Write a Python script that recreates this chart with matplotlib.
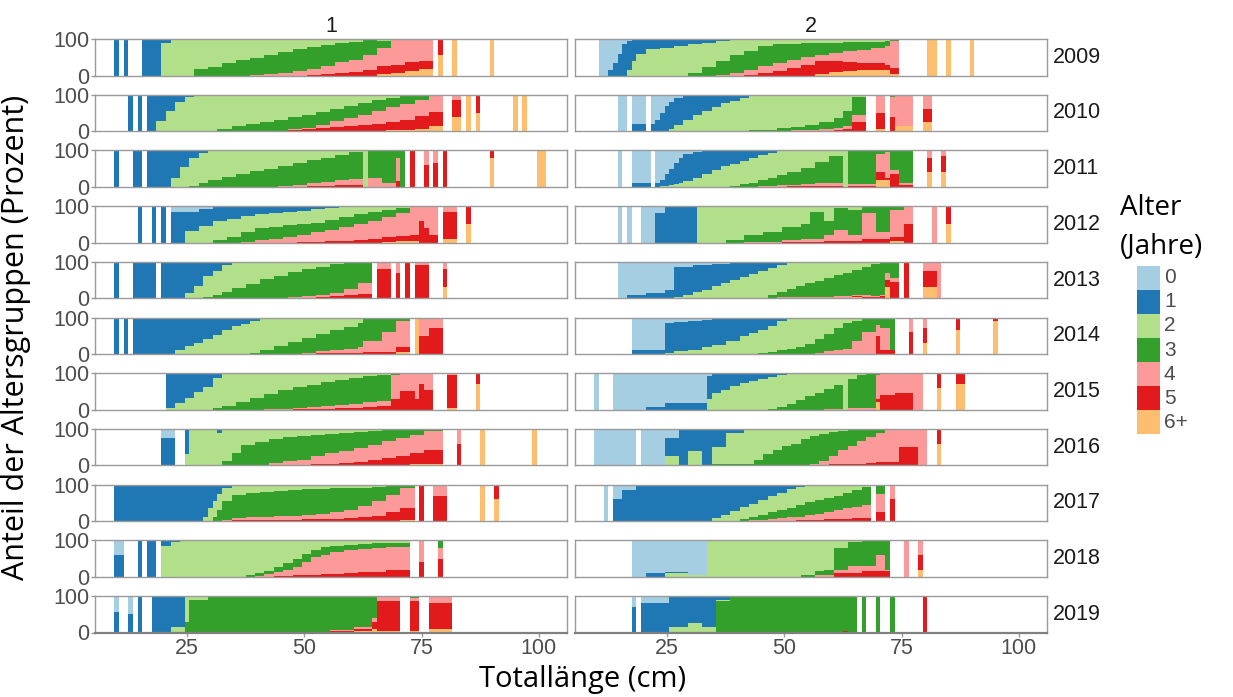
import numpy as np
import matplotlib.pyplot as plt
from matplotlib.patches import Rectangle

ages = ['0', '1', '2', '3', '4', '5', '6+']
colors = ['#a6cee3', '#1f78b4', '#b2df8a', '#33a02c', '#fb9a99', '#e31a1c', '#fdbf6f']
years = list(range(2009, 2020))
areas = ['1', '2']

# rows: first cm, last cm, then % of age 0, 1, 2, 3, 4, 5, 6+
g1_2009 = [
    [10, 10, 0, 100, 0, 0, 0, 0, 0], [12, 12, 0, 100, 0, 0, 0, 0, 0],
    [16, 19, 0, 100, 0, 0, 0, 0, 0], [20, 21, 0, 12, 88, 0, 0, 0, 0],
    [22, 26, 0, 0, 100, 0, 0, 0, 0], [27, 29, 0, 0, 83, 17, 0, 0, 0],
    [30, 32, 0, 0, 76, 24, 0, 0, 0], [33, 35, 0, 0, 67, 33, 0, 0, 0],
    [36, 38, 0, 0, 58, 42, 0, 0, 0], [39, 41, 0, 0, 51, 48, 1, 0, 0],
    [42, 44, 0, 0, 43, 54, 3, 0, 0], [45, 47, 0, 0, 35, 58, 7, 0, 0],
    [48, 50, 0, 0, 28, 61, 11, 0, 0], [51, 53, 0, 0, 22, 60, 17, 1, 0],
    [54, 56, 0, 0, 16, 57, 24, 3, 0], [57, 59, 0, 0, 11, 52, 31, 6, 0],
    [60, 62, 0, 0, 7, 50, 33, 10, 0], [63, 65, 0, 0, 4, 41, 40, 15, 0],
    [66, 68, 0, 0, 5, 20, 50, 22, 3], [69, 71, 0, 0, 0, 3, 67, 24, 6],
    [72, 74, 0, 0, 0, 0, 63, 26, 11], [75, 77, 0, 0, 0, 0, 60, 23, 17],
    [79, 79, 0, 0, 0, 0, 0, 45, 55], [82, 82, 0, 0, 0, 0, 0, 0, 100],
    [90, 90, 0, 0, 0, 0, 0, 0, 100],
]
g1_2010 = [
    [13, 13, 0, 100, 0, 0, 0, 0, 0], [15, 15, 0, 100, 0, 0, 0, 0, 0],
    [17, 18, 0, 100, 0, 0, 0, 0, 0], [19, 20, 0, 72, 28, 0, 0, 0, 0],
    [21, 22, 0, 45, 55, 0, 0, 0, 0], [23, 24, 0, 20, 80, 0, 0, 0, 0],
    [25, 26, 0, 5, 95, 0, 0, 0, 0], [27, 31, 0, 0, 100, 0, 0, 0, 0],
    [32, 34, 0, 0, 94, 6, 0, 0, 0], [35, 37, 0, 0, 87, 13, 0, 0, 0],
    [38, 40, 0, 0, 81, 19, 0, 0, 0], [41, 43, 0, 0, 74, 26, 0, 0, 0],
    [44, 46, 0, 0, 68, 31, 1, 0, 0], [47, 49, 0, 0, 62, 33, 2, 3, 0],
    [50, 52, 0, 0, 55, 35, 4, 6, 0], [53, 55, 0, 0, 48, 34, 10, 8, 0],
    [56, 58, 0, 0, 39, 34, 16, 11, 0], [59, 61, 0, 0, 30, 35, 22, 13, 0],
    [62, 64, 0, 0, 22, 34, 28, 16, 0], [65, 67, 0, 0, 15, 31, 35, 19, 0],
    [68, 70, 0, 0, 8, 27, 40, 23, 2], [71, 73, 0, 0, 3, 22, 43, 28, 4],
    [74, 76, 0, 0, 0, 15, 43, 35, 7], [77, 79, 0, 0, 0, 3, 45, 37, 15],
    [82, 83, 0, 0, 0, 0, 15, 45, 40], [85, 85, 0, 0, 0, 0, 0, 0, 100],
    [87, 87, 0, 0, 0, 0, 0, 50, 50], [95, 95, 0, 0, 0, 0, 0, 0, 100],
    [97, 97, 0, 0, 0, 3, 0, 0, 97],
]
g1_2011 = [
    [10, 10, 0, 100, 0, 0, 0, 0, 0], [14, 15, 0, 100, 0, 0, 0, 0, 0],
    [17, 21, 0, 100, 0, 0, 0, 0, 0], [22, 23, 0, 75, 25, 0, 0, 0, 0],
    [24, 25, 0, 45, 55, 0, 0, 0, 0], [26, 27, 0, 20, 77, 3, 0, 0, 0],
    [28, 29, 0, 6, 82, 12, 0, 0, 0], [30, 32, 0, 0, 80, 20, 0, 0, 0],
    [33, 35, 0, 0, 72, 28, 0, 0, 0], [36, 38, 0, 0, 65, 35, 0, 0, 0],
    [39, 41, 0, 0, 57, 43, 0, 0, 0], [42, 44, 0, 0, 50, 49, 1, 0, 0],
    [45, 47, 0, 0, 42, 55, 3, 0, 0], [48, 50, 0, 0, 35, 60, 4, 1, 0],
    [51, 53, 0, 0, 27, 63, 8, 2, 0], [54, 56, 0, 0, 20, 66, 11, 3, 0],
    [57, 59, 0, 0, 13, 69, 14, 4, 0], [60, 62, 0, 0, 5, 72, 18, 5, 0],
    [63, 63, 0, 0, 100, 0, 0, 0, 0], [64, 66, 0, 0, 0, 75, 25, 0, 0],
    [67, 69, 0, 0, 0, 90, 10, 0, 0], [70, 70, 0, 0, 0, 20, 65, 15, 0],
    [71, 71, 0, 0, 0, 100, 0, 0, 0], [73, 73, 0, 0, 0, 0, 0, 100, 0],
    [76, 76, 0, 0, 0, 0, 40, 60, 0], [78, 78, 0, 0, 0, 0, 35, 65, 0],
    [80, 80, 0, 0, 0, 0, 0, 100, 0], [90, 90, 0, 0, 0, 0, 0, 20, 80],
    [100, 101, 0, 0, 0, 0, 0, 0, 100],
]
g1_2012 = [
    [15, 15, 0, 100, 0, 0, 0, 0, 0], [18, 18, 0, 100, 0, 0, 0, 0, 0],
    [20, 20, 0, 100, 0, 0, 0, 0, 0], [22, 24, 15, 85, 0, 0, 0, 0, 0],
    [25, 27, 15, 53, 32, 0, 0, 0, 0], [28, 30, 8, 47, 45, 0, 0, 0, 0],
    [31, 33, 0, 42, 52, 6, 0, 0, 0], [34, 36, 0, 34, 50, 16, 0, 0, 0],
    [37, 39, 0, 28, 44, 26, 2, 0, 0], [40, 42, 0, 23, 37, 33, 7, 0, 0],
    [43, 45, 0, 19, 37, 33, 11, 0, 0], [46, 48, 0, 16, 37, 32, 15, 0, 0],
    [49, 51, 0, 13, 36, 29, 21, 1, 0], [52, 54, 0, 9, 36, 27, 25, 3, 0],
    [55, 57, 0, 5, 33, 27, 31, 4, 0], [58, 60, 0, 2, 28, 26, 39, 5, 0],
    [61, 63, 0, 0, 23, 25, 45, 7, 0], [64, 66, 0, 0, 17, 23, 51, 9, 0],
    [67, 69, 0, 0, 12, 18, 56, 12, 2], [70, 72, 0, 0, 6, 14, 62, 14, 4],
    [73, 74, 0, 0, 0, 3, 77, 15, 5], [75, 75, 0, 0, 0, 0, 40, 60, 0],
    [76, 76, 0, 0, 0, 0, 60, 40, 0], [77, 78, 0, 0, 0, 0, 80, 20, 0],
    [80, 82, 0, 0, 0, 0, 15, 75, 10], [85, 85, 0, 0, 0, 0, 0, 50, 50],
]
g1_2013 = [
    [10, 10, 0, 100, 0, 0, 0, 0, 0], [14, 18, 0, 100, 0, 0, 0, 0, 0],
    [20, 24, 0, 100, 0, 0, 0, 0, 0], [25, 26, 0, 85, 15, 0, 0, 0, 0],
    [27, 28, 0, 65, 35, 0, 0, 0, 0], [29, 30, 0, 40, 56, 4, 0, 0, 0],
    [31, 32, 0, 25, 65, 10, 0, 0, 0], [33, 34, 0, 10, 73, 17, 0, 0, 0],
    [35, 37, 0, 2, 70, 28, 0, 0, 0], [38, 40, 0, 0, 60, 40, 0, 0, 0],
    [41, 43, 0, 0, 48, 52, 0, 0, 0], [44, 46, 0, 0, 38, 60, 2, 0, 0],
    [47, 49, 0, 0, 28, 68, 4, 0, 0], [50, 52, 0, 0, 20, 73, 5, 2, 0],
    [53, 55, 0, 0, 13, 77, 7, 3, 0], [56, 58, 0, 0, 7, 78, 10, 5, 0],
    [59, 61, 0, 0, 3, 72, 17, 8, 0], [62, 64, 0, 0, 0, 58, 30, 12, 0],
    [66, 68, 0, 0, 0, 0, 20, 80, 0], [70, 70, 0, 0, 0, 0, 30, 70, 0],
    [72, 72, 0, 0, 0, 0, 0, 100, 0], [74, 76, 0, 0, 0, 0, 10, 90, 0],
    [80, 80, 0, 0, 0, 0, 20, 50, 30],
]
g1_2014 = [
    [10, 10, 0, 100, 0, 0, 0, 0, 0], [12, 12, 0, 100, 0, 0, 0, 0, 0],
    [14, 22, 0, 100, 0, 0, 0, 0, 0], [23, 24, 0, 88, 12, 0, 0, 0, 0],
    [25, 26, 0, 78, 22, 0, 0, 0, 0], [27, 28, 0, 70, 30, 0, 0, 0, 0],
    [29, 30, 0, 60, 40, 0, 0, 0, 0], [31, 32, 0, 48, 52, 0, 0, 0, 0],
    [33, 34, 0, 35, 65, 0, 0, 0, 0], [35, 36, 0, 24, 76, 0, 0, 0, 0],
    [37, 38, 0, 17, 83, 0, 0, 0, 0], [39, 40, 0, 9, 87, 4, 0, 0, 0],
    [41, 43, 0, 2, 87, 11, 0, 0, 0], [44, 46, 0, 0, 78, 22, 0, 0, 0],
    [47, 49, 0, 0, 67, 32, 1, 0, 0], [50, 52, 0, 0, 56, 40, 3, 1, 0],
    [53, 55, 0, 0, 45, 47, 5, 3, 0], [56, 58, 0, 0, 35, 53, 9, 3, 0],
    [59, 61, 0, 0, 25, 60, 12, 3, 0], [62, 62, 0, 0, 15, 65, 17, 3, 0],
    [63, 66, 0, 0, 5, 60, 30, 5, 0], [67, 69, 0, 0, 0, 40, 55, 5, 0],
    [70, 72, 0, 0, 0, 10, 70, 15, 5], [74, 74, 0, 0, 0, 0, 0, 0, 100],
    [75, 76, 0, 0, 0, 0, 50, 50, 0], [77, 79, 0, 0, 0, 0, 30, 70, 0],
]
g1_2015 = [
    [21, 22, 0, 95, 5, 0, 0, 0, 0], [23, 24, 0, 82, 18, 0, 0, 0, 0],
    [25, 26, 0, 68, 32, 0, 0, 0, 0], [27, 28, 0, 52, 48, 0, 0, 0, 0],
    [29, 30, 0, 38, 62, 0, 0, 0, 0], [31, 32, 0, 14, 81, 5, 0, 0, 0],
    [33, 35, 0, 2, 88, 10, 0, 0, 0], [36, 38, 0, 0, 79, 21, 0, 0, 0],
    [39, 41, 0, 0, 68, 32, 0, 0, 0], [42, 44, 0, 0, 58, 41, 1, 0, 0],
    [45, 47, 0, 0, 47, 50, 3, 0, 0], [48, 50, 0, 0, 39, 55, 5, 1, 0],
    [51, 53, 0, 0, 31, 61, 6, 2, 0], [54, 56, 0, 0, 25, 65, 7, 3, 0],
    [57, 59, 0, 0, 19, 68, 9, 4, 0], [60, 62, 0, 0, 13, 71, 11, 5, 0],
    [63, 65, 0, 0, 9, 70, 14, 7, 0], [66, 68, 0, 0, 5, 70, 16, 9, 0],
    [69, 70, 0, 0, 0, 5, 65, 30, 0], [71, 73, 0, 0, 0, 0, 50, 50, 0],
    [74, 74, 0, 0, 0, 0, 70, 30, 0], [75, 75, 0, 0, 0, 0, 30, 70, 0],
    [76, 77, 0, 0, 0, 0, 45, 55, 0], [81, 82, 0, 0, 0, 0, 5, 90, 5],
    [87, 87, 0, 0, 0, 0, 0, 30, 70],
]
g1_2016 = [
    [20, 22, 25, 75, 0, 0, 0, 0, 0], [25, 25, 0, 70, 30, 0, 0, 0, 0],
    [26, 31, 0, 0, 100, 0, 0, 0, 0], [32, 32, 0, 10, 90, 0, 0, 0, 0],
    [33, 34, 0, 0, 88, 12, 0, 0, 0], [35, 36, 0, 0, 65, 35, 0, 0, 0],
    [37, 39, 0, 0, 45, 55, 0, 0, 0], [40, 42, 0, 0, 35, 63, 2, 0, 0],
    [43, 45, 0, 0, 29, 65, 6, 0, 0], [46, 48, 0, 0, 23, 66, 11, 0, 0],
    [49, 51, 0, 0, 19, 66, 13, 2, 0], [52, 54, 0, 0, 16, 59, 21, 4, 0],
    [55, 57, 0, 0, 13, 53, 29, 5, 0], [58, 60, 0, 0, 10, 50, 33, 7, 0],
    [61, 63, 0, 0, 8, 44, 38, 10, 0], [64, 66, 0, 0, 6, 37, 43, 14, 0],
    [67, 69, 0, 0, 4, 30, 46, 20, 0], [70, 72, 0, 0, 3, 22, 48, 26, 1],
    [73, 75, 0, 0, 2, 14, 50, 31, 3], [76, 79, 0, 0, 0, 7, 51, 37, 5],
    [83, 83, 0, 0, 0, 0, 40, 60, 0], [88, 88, 0, 0, 0, 0, 0, 0, 100],
    [99, 99, 0, 0, 0, 0, 0, 0, 100],
]
g1_2017 = [
    [10, 28, 0, 100, 0, 0, 0, 0, 0], [29, 29, 0, 90, 10, 0, 0, 0, 0],
    [30, 30, 0, 65, 35, 0, 0, 0, 0], [31, 31, 0, 45, 45, 10, 0, 0, 0],
    [32, 32, 0, 25, 45, 30, 0, 0, 0], [33, 34, 0, 8, 37, 52, 3, 0, 0],
    [35, 37, 0, 1, 28, 63, 5, 3, 0], [38, 40, 0, 0, 24, 66, 6, 4, 0],
    [41, 43, 0, 0, 20, 68, 8, 4, 0], [44, 46, 0, 0, 17, 70, 9, 4, 0],
    [47, 49, 0, 0, 14, 72, 10, 4, 0], [50, 52, 0, 0, 12, 72, 11, 5, 0],
    [53, 55, 0, 0, 11, 70, 13, 6, 0], [56, 58, 0, 0, 10, 66, 17, 7, 0],
    [59, 61, 0, 0, 10, 60, 22, 8, 0], [62, 64, 0, 0, 8, 50, 31, 11, 0],
    [65, 67, 0, 0, 6, 40, 39, 15, 0], [68, 70, 0, 0, 4, 25, 45, 25, 1],
    [71, 73, 0, 0, 2, 8, 55, 33, 2], [75, 75, 0, 0, 0, 0, 0, 100, 0],
    [78, 80, 0, 0, 0, 0, 30, 70, 0], [88, 88, 0, 0, 0, 0, 0, 0, 100],
    [91, 91, 0, 0, 0, 0, 0, 40, 60],
]
g1_2018 = [
    [10, 11, 40, 60, 0, 0, 0, 0, 0], [15, 15, 0, 100, 0, 0, 0, 0, 0],
    [17, 18, 0, 100, 0, 0, 0, 0, 0], [20, 21, 0, 15, 85, 0, 0, 0, 0],
    [22, 23, 0, 5, 95, 0, 0, 0, 0], [24, 37, 0, 0, 100, 0, 0, 0, 0],
    [38, 39, 0, 0, 95, 5, 0, 0, 0], [40, 41, 0, 0, 90, 7, 3, 0, 0],
    [42, 43, 0, 0, 83, 10, 7, 0, 0], [44, 45, 0, 0, 74, 14, 10, 2, 0],
    [46, 47, 0, 0, 62, 20, 15, 3, 0], [48, 49, 0, 0, 50, 22, 24, 4, 0],
    [50, 51, 0, 0, 38, 22, 35, 5, 0], [52, 53, 0, 0, 26, 20, 48, 6, 0],
    [54, 55, 0, 0, 19, 20, 53, 8, 0], [56, 58, 0, 0, 15, 18, 58, 9, 0],
    [59, 61, 0, 0, 12, 15, 63, 10, 0], [62, 64, 0, 0, 10, 14, 64, 12, 0],
    [65, 67, 0, 0, 8, 13, 65, 14, 0], [68, 72, 0, 0, 7, 11, 64, 18, 0],
    [75, 75, 0, 0, 0, 0, 60, 40, 0], [79, 79, 0, 0, 0, 20, 30, 50, 0],
]
g1_2019 = [
    [10, 10, 45, 55, 0, 0, 0, 0, 0], [13, 13, 50, 50, 0, 0, 0, 0, 0],
    [15, 15, 0, 100, 0, 0, 0, 0, 0], [18, 21, 0, 100, 0, 0, 0, 0, 0],
    [22, 24, 0, 85, 15, 0, 0, 0, 0], [25, 25, 0, 0, 70, 30, 0, 0, 0],
    [26, 29, 0, 0, 12, 88, 0, 0, 0], [30, 55, 0, 0, 2, 97, 1, 0, 0],
    [56, 60, 0, 0, 1, 92, 4, 2, 1], [61, 64, 0, 0, 0, 85, 5, 6, 4],
    [65, 65, 0, 0, 0, 60, 10, 20, 10], [66, 70, 0, 0, 0, 0, 15, 80, 5],
    [73, 74, 0, 0, 0, 5, 10, 80, 5], [77, 81, 0, 0, 0, 0, 20, 70, 10],
]

g2_2009 = [
    [11, 12, 100, 0, 0, 0, 0, 0, 0], [13, 13, 85, 15, 0, 0, 0, 0, 0],
    [14, 14, 65, 35, 0, 0, 0, 0, 0], [15, 15, 40, 60, 0, 0, 0, 0, 0],
    [16, 16, 15, 85, 0, 0, 0, 0, 0], [17, 17, 5, 80, 15, 0, 0, 0, 0],
    [18, 18, 2, 58, 40, 0, 0, 0, 0], [19, 20, 0, 40, 60, 0, 0, 0, 0],
    [21, 23, 0, 27, 73, 0, 0, 0, 0], [24, 26, 0, 24, 76, 0, 0, 0, 0],
    [27, 29, 0, 20, 80, 0, 0, 0, 0], [30, 32, 0, 15, 77, 8, 0, 0, 0],
    [33, 35, 0, 10, 68, 22, 0, 0, 0], [36, 38, 0, 5, 55, 38, 2, 0, 0],
    [39, 41, 0, 1, 42, 51, 6, 0, 0], [42, 44, 0, 0, 32, 52, 14, 2, 0],
    [45, 47, 0, 0, 20, 55, 18, 7, 0], [48, 50, 0, 0, 15, 50, 22, 13, 0],
    [51, 53, 0, 0, 13, 45, 22, 20, 0], [54, 56, 0, 0, 12, 38, 20, 30, 0],
    [57, 59, 0, 0, 11, 34, 15, 37, 3], [60, 62, 0, 0, 10, 28, 22, 30, 10],
    [63, 65, 0, 0, 8, 25, 29, 25, 13], [66, 68, 0, 0, 8, 21, 36, 20, 15],
    [69, 71, 0, 0, 7, 18, 42, 18, 15], [72, 72, 0, 0, 5, 15, 50, 15, 15],
    [73, 74, 0, 0, 0, 5, 75, 15, 5], [81, 82, 0, 0, 0, 0, 0, 0, 100],
    [85, 85, 0, 0, 0, 0, 0, 0, 100], [90, 90, 0, 0, 0, 0, 0, 0, 100],
]
g2_2010 = [
    [15, 16, 100, 0, 0, 0, 0, 0, 0], [18, 20, 80, 20, 0, 0, 0, 0, 0],
    [22, 22, 80, 20, 0, 0, 0, 0, 0], [23, 23, 70, 30, 0, 0, 0, 0, 0],
    [24, 24, 50, 50, 0, 0, 0, 0, 0], [25, 25, 30, 70, 0, 0, 0, 0, 0],
    [26, 26, 20, 75, 5, 0, 0, 0, 0], [27, 28, 8, 75, 17, 0, 0, 0, 0],
    [29, 30, 0, 69, 31, 0, 0, 0, 0], [31, 32, 0, 55, 45, 0, 0, 0, 0],
    [33, 34, 0, 44, 56, 0, 0, 0, 0], [35, 36, 0, 33, 67, 0, 0, 0, 0],
    [37, 38, 0, 24, 76, 0, 0, 0, 0], [39, 40, 0, 16, 84, 0, 0, 0, 0],
    [41, 42, 0, 9, 90, 1, 0, 0, 0], [43, 45, 0, 4, 94, 2, 0, 0, 0],
    [46, 48, 0, 1, 95, 4, 0, 0, 0], [49, 51, 0, 0, 92, 7, 1, 0, 0],
    [52, 54, 0, 0, 88, 10, 2, 0, 0], [55, 57, 0, 0, 83, 14, 3, 0, 0],
    [58, 60, 0, 0, 75, 20, 5, 0, 0], [61, 62, 0, 0, 65, 25, 8, 2, 0],
    [63, 64, 0, 0, 45, 40, 10, 5, 0], [65, 67, 0, 0, 5, 50, 20, 25, 0],
    [70, 71, 0, 0, 0, 0, 50, 45, 5], [73, 73, 0, 0, 0, 5, 55, 40, 0],
    [74, 77, 0, 0, 0, 0, 85, 0, 15], [80, 81, 0, 0, 0, 0, 40, 35, 25],
]
g2_2011 = [
    [15, 15, 100, 0, 0, 0, 0, 0, 0], [18, 21, 88, 12, 0, 0, 0, 0, 0],
    [23, 23, 90, 10, 0, 0, 0, 0, 0], [24, 24, 80, 18, 2, 0, 0, 0, 0],
    [25, 25, 65, 32, 3, 0, 0, 0, 0], [26, 26, 50, 45, 5, 0, 0, 0, 0],
    [27, 27, 35, 57, 8, 0, 0, 0, 0], [28, 28, 22, 66, 12, 0, 0, 0, 0],
    [29, 30, 10, 73, 17, 0, 0, 0, 0], [31, 32, 5, 71, 24, 0, 0, 0, 0],
    [33, 34, 0, 65, 35, 0, 0, 0, 0], [35, 36, 0, 54, 46, 0, 0, 0, 0],
    [37, 38, 0, 43, 56, 1, 0, 0, 0], [39, 40, 0, 36, 61, 3, 0, 0, 0],
    [41, 42, 0, 28, 65, 7, 0, 0, 0], [43, 44, 0, 20, 68, 11, 1, 0, 0],
    [45, 46, 0, 12, 69, 17, 2, 0, 0], [47, 48, 0, 6, 69, 22, 3, 0, 0],
    [49, 50, 0, 2, 66, 27, 4, 1, 0], [51, 53, 0, 0, 60, 34, 4, 2, 0],
    [54, 56, 0, 0, 47, 45, 6, 2, 0], [57, 59, 0, 0, 33, 57, 7, 3, 0],
    [60, 62, 0, 0, 15, 75, 7, 3, 0], [63, 63, 0, 0, 100, 0, 0, 0, 0],
    [64, 69, 0, 0, 2, 90, 6, 2, 0], [70, 71, 0, 0, 0, 10, 50, 20, 20],
    [72, 72, 0, 0, 0, 5, 70, 5, 20], [73, 74, 0, 0, 0, 55, 10, 35, 0],
    [75, 77, 0, 0, 0, 90, 5, 5, 0], [81, 81, 0, 0, 0, 0, 20, 40, 40],
    [84, 84, 0, 0, 0, 0, 15, 45, 40],
]
g2_2012 = [
    [15, 15, 100, 0, 0, 0, 0, 0, 0], [17, 17, 100, 0, 0, 0, 0, 0, 0],
    [20, 22, 100, 0, 0, 0, 0, 0, 0], [23, 24, 20, 80, 0, 0, 0, 0, 0],
    [25, 31, 0, 100, 0, 0, 0, 0, 0], [32, 37, 0, 0, 100, 0, 0, 0, 0],
    [38, 41, 0, 0, 92, 8, 0, 0, 0], [42, 45, 0, 0, 80, 19, 1, 0, 0],
    [46, 49, 0, 0, 70, 27, 3, 0, 0], [50, 53, 0, 0, 58, 35, 5, 2, 0],
    [54, 55, 0, 0, 50, 40, 7, 3, 0], [56, 58, 0, 0, 15, 75, 7, 3, 0],
    [59, 60, 0, 0, 40, 40, 15, 5, 0], [61, 63, 0, 0, 5, 60, 30, 5, 0],
    [64, 66, 0, 0, 10, 70, 15, 5, 0], [67, 69, 0, 0, 0, 20, 70, 10, 0],
    [70, 72, 0, 0, 0, 70, 20, 10, 0], [73, 75, 0, 0, 0, 10, 75, 10, 5],
    [76, 77, 0, 0, 0, 0, 50, 50, 0], [82, 82, 0, 0, 0, 0, 100, 0, 0],
    [85, 85, 0, 0, 0, 0, 0, 50, 50],
]
g2_2013 = [
    [15, 16, 100, 0, 0, 0, 0, 0, 0], [17, 20, 90, 10, 0, 0, 0, 0, 0],
    [21, 24, 85, 15, 0, 0, 0, 0, 0], [25, 26, 78, 22, 0, 0, 0, 0, 0],
    [27, 28, 15, 82, 3, 0, 0, 0, 0], [29, 30, 13, 79, 8, 0, 0, 0, 0],
    [31, 32, 10, 74, 16, 0, 0, 0, 0], [33, 34, 9, 67, 24, 0, 0, 0, 0],
    [35, 36, 7, 60, 33, 0, 0, 0, 0], [37, 38, 5, 54, 41, 0, 0, 0, 0],
    [39, 40, 4, 46, 50, 0, 0, 0, 0], [41, 42, 3, 39, 58, 0, 0, 0, 0],
    [43, 44, 2, 31, 66, 1, 0, 0, 0], [45, 46, 1, 24, 73, 2, 0, 0, 0],
    [47, 48, 0, 17, 73, 8, 2, 0, 0], [49, 50, 0, 8, 74, 15, 3, 0, 0],
    [51, 52, 0, 3, 71, 23, 3, 0, 0], [53, 54, 0, 0, 67, 30, 3, 0, 0],
    [55, 56, 0, 0, 59, 37, 4, 0, 0], [57, 58, 0, 0, 52, 44, 4, 0, 0],
    [59, 60, 0, 0, 44, 52, 4, 0, 0], [61, 62, 0, 0, 37, 58, 4, 1, 0],
    [63, 64, 0, 0, 30, 64, 4, 2, 0], [65, 66, 0, 0, 22, 68, 5, 2, 3],
    [67, 68, 0, 0, 14, 78, 4, 2, 2], [69, 70, 0, 0, 6, 88, 3, 2, 1],
    [71, 71, 0, 0, 0, 92, 3, 3, 2], [72, 72, 0, 0, 0, 30, 20, 20, 30],
    [73, 74, 0, 0, 0, 45, 10, 45, 0], [76, 76, 0, 0, 0, 0, 0, 100, 0],
    [80, 82, 0, 0, 0, 0, 25, 45, 30], [83, 83, 0, 0, 0, 0, 100, 0, 0],
]
g2_2014 = [
    [18, 24, 88, 12, 0, 0, 0, 0, 0], [25, 26, 15, 82, 3, 0, 0, 0, 0],
    [27, 29, 12, 81, 7, 0, 0, 0, 0], [30, 32, 9, 80, 11, 0, 0, 0, 0],
    [33, 34, 6, 76, 18, 0, 0, 0, 0], [35, 37, 4, 70, 26, 0, 0, 0, 0],
    [38, 40, 3, 62, 35, 0, 0, 0, 0], [41, 42, 2, 50, 47, 1, 0, 0, 0],
    [43, 44, 1, 42, 56, 1, 0, 0, 0], [45, 46, 0, 33, 64, 3, 0, 0, 0],
    [47, 48, 0, 22, 73, 5, 0, 0, 0], [49, 50, 0, 10, 80, 10, 0, 0, 0],
    [51, 52, 0, 3, 83, 14, 0, 0, 0], [53, 54, 0, 0, 80, 20, 0, 0, 0],
    [55, 56, 0, 0, 72, 28, 0, 0, 0], [57, 58, 0, 0, 60, 37, 3, 0, 0],
    [59, 60, 0, 0, 45, 48, 7, 0, 0], [61, 62, 0, 0, 30, 60, 10, 0, 0],
    [63, 64, 0, 0, 15, 70, 15, 0, 0], [65, 66, 0, 0, 10, 55, 35, 0, 0],
    [67, 69, 0, 0, 5, 35, 60, 0, 0], [70, 70, 0, 0, 0, 20, 30, 50, 0],
    [71, 72, 0, 0, 0, 30, 60, 10, 0], [73, 73, 0, 0, 0, 90, 0, 10, 0],
    [77, 77, 0, 0, 0, 0, 40, 60, 0], [80, 80, 0, 0, 0, 0, 30, 40, 30],
    [87, 87, 0, 0, 0, 0, 0, 35, 65], [95, 95, 0, 0, 0, 0, 0, 10, 90],
]
g2_2015 = [
    [10, 10, 100, 0, 0, 0, 0, 0, 0], [14, 20, 100, 0, 0, 0, 0, 0, 0],
    [21, 24, 92, 8, 0, 0, 0, 0, 0], [25, 33, 82, 18, 0, 0, 0, 0, 0],
    [34, 34, 8, 62, 30, 0, 0, 0, 0], [35, 36, 0, 55, 45, 0, 0, 0, 0],
    [37, 38, 0, 45, 55, 0, 0, 0, 0], [39, 40, 0, 36, 64, 0, 0, 0, 0],
    [41, 42, 0, 28, 72, 0, 0, 0, 0], [43, 44, 0, 21, 79, 0, 0, 0, 0],
    [45, 46, 0, 15, 85, 0, 0, 0, 0], [47, 48, 0, 10, 87, 3, 0, 0, 0],
    [49, 50, 0, 6, 87, 7, 0, 0, 0], [51, 52, 0, 3, 81, 16, 0, 0, 0],
    [53, 54, 0, 1, 72, 27, 0, 0, 0], [55, 56, 0, 0, 63, 37, 0, 0, 0],
    [57, 58, 0, 0, 55, 45, 0, 0, 0], [59, 60, 0, 0, 42, 55, 3, 0, 0],
    [61, 62, 0, 0, 32, 65, 3, 0, 0], [63, 63, 0, 0, 100, 0, 0, 0, 0],
    [64, 65, 0, 0, 15, 80, 5, 0, 0], [66, 67, 0, 0, 5, 90, 5, 0, 0],
    [68, 69, 0, 0, 0, 95, 5, 0, 0], [70, 70, 0, 0, 0, 5, 65, 10, 20],
    [71, 73, 0, 0, 0, 0, 60, 40, 0], [74, 77, 0, 0, 0, 0, 55, 45, 0],
    [78, 79, 0, 0, 0, 0, 100, 0, 0], [83, 83, 0, 0, 0, 0, 0, 40, 60],
    [87, 88, 0, 0, 0, 0, 0, 30, 70],
]
g2_2016 = [
    [10, 18, 100, 0, 0, 0, 0, 0, 0], [20, 24, 100, 0, 0, 0, 0, 0, 0],
    [25, 27, 25, 50, 25, 0, 0, 0, 0], [28, 29, 0, 100, 0, 0, 0, 0, 0],
    [30, 32, 0, 60, 40, 0, 0, 0, 0], [33, 34, 0, 100, 0, 0, 0, 0, 0],
    [35, 37, 0, 50, 45, 5, 0, 0, 0], [38, 41, 0, 10, 85, 5, 0, 0, 0],
    [42, 43, 0, 0, 95, 5, 0, 0, 0], [44, 45, 0, 0, 85, 15, 0, 0, 0],
    [46, 47, 0, 0, 68, 32, 0, 0, 0], [48, 49, 0, 0, 58, 42, 0, 0, 0],
    [50, 51, 0, 0, 48, 52, 0, 0, 0], [52, 53, 0, 0, 40, 60, 0, 0, 0],
    [54, 55, 0, 0, 28, 70, 2, 0, 0], [56, 57, 0, 0, 20, 75, 5, 0, 0],
    [58, 59, 0, 0, 14, 74, 10, 2, 0], [60, 61, 0, 0, 8, 66, 23, 3, 0],
    [62, 63, 0, 0, 5, 53, 38, 4, 0], [64, 65, 0, 0, 4, 42, 50, 4, 0],
    [66, 67, 0, 0, 3, 30, 62, 5, 0], [68, 69, 0, 0, 2, 20, 72, 6, 0],
    [70, 71, 0, 0, 0, 10, 82, 8, 0], [72, 73, 0, 0, 0, 3, 87, 10, 0],
    [74, 74, 0, 0, 0, 0, 90, 10, 0], [75, 78, 0, 0, 0, 0, 50, 50, 0],
    [79, 80, 0, 0, 0, 0, 100, 0, 0], [83, 83, 0, 0, 0, 0, 0, 40, 60],
]
g2_2017 = [
    [12, 12, 100, 0, 0, 0, 0, 0, 0], [14, 15, 40, 60, 0, 0, 0, 0, 0],
    [16, 18, 15, 85, 0, 0, 0, 0, 0], [19, 34, 0, 100, 0, 0, 0, 0, 0],
    [35, 36, 0, 92, 8, 0, 0, 0, 0], [37, 38, 0, 82, 18, 0, 0, 0, 0],
    [39, 40, 0, 72, 28, 0, 0, 0, 0], [41, 42, 0, 62, 33, 5, 0, 0, 0],
    [43, 44, 0, 52, 37, 9, 2, 0, 0], [45, 46, 0, 42, 40, 14, 4, 0, 0],
    [47, 48, 0, 32, 43, 19, 6, 0, 0], [49, 50, 0, 23, 46, 23, 8, 0, 0],
    [51, 52, 0, 13, 50, 27, 10, 0, 0], [53, 54, 0, 6, 49, 33, 10, 2, 0],
    [55, 56, 0, 2, 46, 36, 13, 3, 0], [57, 58, 0, 0, 43, 37, 16, 4, 0],
    [59, 60, 0, 0, 36, 39, 20, 5, 0], [61, 62, 0, 0, 30, 40, 24, 6, 0],
    [63, 64, 0, 0, 22, 42, 29, 7, 0], [65, 66, 0, 0, 14, 46, 32, 8, 0],
    [67, 68, 0, 0, 7, 48, 37, 8, 0], [70, 71, 0, 0, 0, 25, 50, 25, 0],
    [73, 73, 0, 0, 0, 0, 40, 60, 0],
]
g2_2018 = [
    [18, 20, 100, 0, 0, 0, 0, 0, 0], [21, 24, 90, 10, 0, 0, 0, 0, 0],
    [25, 29, 88, 2, 10, 0, 0, 0, 0], [30, 33, 95, 0, 5, 0, 0, 0, 0],
    [34, 53, 0, 0, 100, 0, 0, 0, 0], [54, 56, 0, 0, 95, 5, 0, 0, 0],
    [57, 58, 0, 0, 85, 10, 5, 0, 0], [59, 60, 0, 0, 80, 15, 5, 0, 0],
    [61, 63, 0, 0, 20, 60, 10, 10, 0], [64, 66, 0, 0, 5, 65, 20, 10, 0],
    [67, 69, 0, 0, 0, 70, 15, 15, 0], [70, 71, 0, 0, 0, 40, 45, 15, 0],
    [72, 72, 0, 0, 0, 80, 5, 15, 0], [76, 76, 0, 0, 0, 0, 100, 0, 0],
    [79, 79, 0, 0, 0, 0, 40, 40, 20],
]
g2_2019 = [
    [18, 18, 30, 70, 0, 0, 0, 0, 0], [20, 25, 20, 80, 0, 0, 0, 0, 0],
    [26, 29, 0, 85, 15, 0, 0, 0, 0], [30, 32, 0, 75, 25, 0, 0, 0, 0],
    [33, 35, 0, 85, 15, 0, 0, 0, 0], [36, 38, 0, 10, 5, 85, 0, 0, 0],
    [39, 62, 0, 0, 1, 99, 0, 0, 0], [63, 63, 0, 0, 0, 95, 0, 5, 0],
    [64, 65, 0, 0, 0, 100, 0, 0, 0], [67, 67, 0, 0, 0, 100, 0, 0, 0],
    [70, 70, 0, 0, 0, 100, 0, 0, 0], [73, 73, 0, 0, 0, 100, 0, 0, 0],
    [80, 80, 0, 0, 0, 0, 0, 100, 0],
]

panels = {
    '1': [g1_2009, g1_2010, g1_2011, g1_2012, g1_2013, g1_2014,
          g1_2015, g1_2016, g1_2017, g1_2018, g1_2019],
    '2': [g2_2009, g2_2010, g2_2011, g2_2012, g2_2013, g2_2014,
          g2_2015, g2_2016, g2_2017, g2_2018, g2_2019],
}

W, H = 1233, 697
fig = plt.figure(figsize=(W / 100, H / 100), dpi=100)
title_font = ['Open Sans', 'DejaVu Sans']
tick_font = ['Liberation Sans', 'DejaVu Sans']
tick_col = '#4d4d4d'
frame_col = '#9a9a9a'

col_x = [95, 575]
col_w = 472
row_top = 39
row_step = 55.7
row_h = 36.5

for c, area in enumerate(areas):
    for r, year in enumerate(years):
        top = row_top + r * row_step
        ax = fig.add_axes([col_x[c] / W, 1 - (top + row_h) / H, col_w / W, row_h / H])
        rows = panels[area][r]
        lo = np.array([row[0] for row in rows]) - 0.5
        wid = np.array([row[1] - row[0] + 1 for row in rows])
        share = np.array([row[2:] for row in rows], float)
        share = share / share.sum(axis=1, keepdims=True) * 100
        bottom = np.zeros(len(rows))
        # 6+ at the bottom, age 0 on top
        for k in range(6, -1, -1):
            ax.bar(lo, share[:, k], width=wid, bottom=bottom, align='edge',
                   color=colors[k], linewidth=0, antialiased=False)
            bottom += share[:, k]
        ax.set_xlim(5.4, 106)
        ax.set_ylim(0, 100)
        for s in ax.spines.values():
            s.set_color(frame_col)
            s.set_linewidth(1.0)
        ax.tick_params(colors=frame_col, labelcolor=tick_col, labelsize=15.5,
                       length=3, width=1, pad=1)
        for lab in ax.get_xticklabels() + ax.get_yticklabels():
            lab.set_family(tick_font)
        if c == 0:
            ax.set_yticks([0, 100])
            ax.set_yticklabels(['0', '100'], family=tick_font)
        else:
            ax.set_yticks([])
        if r == len(years) - 1:
            ax.set_xticks([25, 50, 75, 100])
            ax.set_xticklabels(['25', '50', '75', '100'], family=tick_font)
            ax.spines['bottom'].set_linewidth(1.6)
            ax.spines['bottom'].set_color('#808080')
        else:
            ax.set_xticks([])
        if r == 0:
            ax.set_title(area, fontsize=15.5, color='#1a1a1a', pad=5, family=tick_font)
        if c == 1:
            ax.text(1.012, 0.5, str(year), transform=ax.transAxes, ha='left',
                    va='center', fontsize=15.5, color='#1a1a1a', family=tick_font)

fig.text(16 / W, 1 - 337 / H, 'Anteil der Altersgruppen (Prozent)', rotation=90,
         ha='center', va='center', fontsize=22, family=title_font)
fig.text(583 / W, 1 - 679 / H, 'Totallänge (cm)', ha='center', va='center',
         fontsize=21, family=title_font)

# legend
fig.text(1120 / W, 1 - 208 / H, 'Alter', ha='left', va='center',
         fontsize=20, family=title_font)
fig.text(1120 / W, 1 - 246 / H, '(Jahre)', ha='left', va='center',
         fontsize=20, family=title_font)
key_h = 24
for i, (a, col) in enumerate(zip(ages, colors)):
    y = 1 - (266 + (i + 1) * key_h) / H
    fig.add_artist(Rectangle((1137 / W, y), 23 / W, key_h / H, transform=fig.transFigure,
                             facecolor=col, edgecolor='none'))
    fig.text(1164 / W, y + key_h / 2 / H, a, ha='left', va='center', fontsize=15,
             color=tick_col, family=tick_font)

fig.savefig('out.png', dpi=100)
